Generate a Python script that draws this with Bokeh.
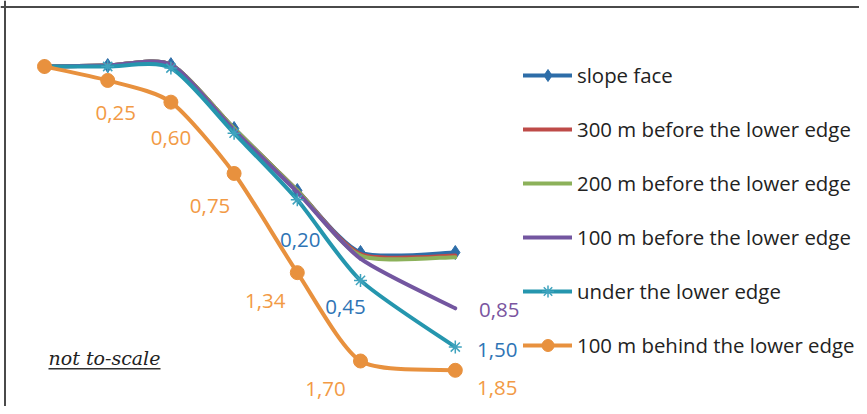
import numpy as np
from bokeh.plotting import figure
from bokeh.models import Range1d, Span, Legend, LegendItem, ColumnDataSource, Label, BoxAnnotation
from bokeh.embed import file_html
from bokeh.resources import INLINE
from bokeh.core.properties import value

# ---------------- data ----------------
x_pos = [0, 1, 2, 3, 4, 5, 6.5]
slope_face = [0, 0.03, 0.06, -2.0, -4.0, -6.0, -6.0]
before_300 = [0, 0.03, 0.06, -2.0, -4.0, -6.05, -6.1]
before_200 = [0, 0.03, 0.06, -2.0, -4.0, -6.1, -6.15]
before_100 = [0, 0.03, 0.06, -2.05, -4.05, -6.2, -7.8]
under_edge = [0, 0.0, -0.05, -2.15, -4.3, -6.9, -9.05]
behind_100 = [0, -0.45, -1.15, -3.45, -6.65, -9.5, -9.8]

series_names = ["slope face", "300 m before the lower edge", "200 m before the lower edge",
                "100 m before the lower edge", "under the lower edge", "100 m behind the lower edge"]

behind_labels = ["0,25", "0,60", "0,75", "1,34", "1,70", "1,85"]
behind_label_idx = [1, 2, 3, 4, 5, 6]
under_labels = ["0,20", "0,45", "1,50"]
under_label_idx = [4, 5, 6]
before100_labels = ["0,85"]
before100_label_idx = [6]

# ---------------- layout helpers ----------------
W, H = 859, 406
PX_X, PX_Y = 63.2, 31.0
X0, Y0 = 44, 66          # canvas pixel of the first point
TENSION = 0.12

def dx(px):
    return (px - X0) / PX_X

def dy(py):
    return (Y0 - py) / PX_Y

xs = dx(0); xe = xs + W / PX_X
ye = dy(0); ys = ye - H / PX_Y

p = figure(width=W, height=H, x_range=Range1d(xs, xe), y_range=Range1d(ys, ye),
           output_backend="svg", toolbar_location=None, min_border=0,
           x_axis_location=None, y_axis_location=None)
p.grid.visible = False
p.outline_line_color = None
p.background_fill_color = "white"

# border (top & left)
p.add_layout(Span(location=dy(6.5), dimension="width", line_color="#4a4a4a", line_width=2))
p.add_layout(Span(location=dx(4.5), dimension="height", line_color="#4a4a4a", line_width=2))


def smooth_source(x, y):
    X = np.asarray(x, float); Y = np.asarray(y, float)
    n = len(X)
    i = np.arange(n - 1)
    im1 = np.maximum(i - 1, 0)
    ip2 = np.minimum(i + 2, n - 1)
    cx0 = X[i] + (X[i + 1] - X[im1]) * TENSION
    cy0 = Y[i] + (Y[i + 1] - Y[im1]) * TENSION
    cx1 = X[i + 1] - (X[ip2] - X[i]) * TENSION
    cy1 = Y[i + 1] - (Y[ip2] - Y[i]) * TENSION
    return ColumnDataSource(dict(x0=X[:-1], y0=Y[:-1], x1=X[1:], y1=Y[1:],
                                 cx0=cx0, cy0=cy0, cx1=cx1, cy1=cy1))

colors = ["#2D6DA8", "#BE4B48", "#8CB15A", "#7356A0", "#2596AE", "#E8913E"]
data = [slope_face, before_300, before_200, before_100, under_edge, behind_100]
markers = ["diamond", None, None, None, "asterisk", "circle"]
msizes = [14, 0, 0, 0, 13, 14]

items = []
for name, ys_, col, mk, ms in zip(series_names, data, colors, markers, msizes):
    src = smooth_source(x_pos, ys_)
    r = p.bezier(x0="x0", y0="y0", x1="x1", y1="y1", cx0="cx0", cy0="cy0", cx1="cx1", cy1="cy1",
                 source=src, line_color=col, line_width=4, line_cap="round")
    rs = [r]
    if mk:
        if mk == "asterisk":
            m = p.scatter(x_pos, ys_, marker=mk, size=ms, line_color="#3FA3BE", line_width=1.5)
        else:
            m = p.scatter(x_pos, ys_, marker=mk, size=ms, fill_color=col, line_color=col)
        rs.append(m)
    items.append(LegendItem(label=name, renderers=rs))

# data labels
FONT = "Open Sans"
def add_labels(series, idx, labels, offs, color):
    src = ColumnDataSource(dict(x=[x_pos[i] for i in idx], y=[series[i] for i in idx], t=labels,
                                xo=[o[0] for o in offs], yo=[o[1] for o in offs]))
    p.text(x="x", y="y", text="t", source=src, x_offset="xo", y_offset="yo",
           text_align="center", text_baseline="middle", text_color=color,
           text_font=value(FONT), text_font_size="20.5px")

add_labels(behind_100, behind_label_idx, behind_labels,
           [(8, 33), (0, 36), (-24, 33), (-32, 28), (-35, 28), (42, 18)], "#F29A45")
add_labels(under_edge, under_label_idx, under_labels,
           [(3, 40), (-15, 27), (42, 3)], "#2E74B5")
add_labels(before_100, before100_label_idx, before100_labels,
           [(44, 2)], "#7A55A0")

# legend
LH = 30
SP = 54 - LH
leg_h = 6 * LH + 5 * SP
leg_top = 75 - LH / 2
legend = Legend(items=items, location=(523, H - (leg_top + leg_h)),
                border_line_color=None, background_fill_alpha=0, padding=0, margin=0,
                spacing=SP, glyph_width=49, glyph_height=LH, label_height=LH,
                label_standoff=5, label_text_font=FONT, label_text_font_size="20.4px",
                label_text_color="#222222", label_text_baseline="middle")
p.add_layout(legend)

# not to-scale note
p.add_layout(Label(x=dx(104), y=dy(357), text="not to-scale", text_align="center",
                   text_baseline="middle", text_font="DejaVu Serif", text_font_style="italic",
                   text_font_size="19px", text_color="#222222"))
p.add_layout(BoxAnnotation(left=dx(48), right=dx(160), top=dy(367.5), bottom=dy(369),
                           fill_color="#333333", fill_alpha=1, line_color=None))

open("out.html", "w").write(file_html(p, INLINE))
